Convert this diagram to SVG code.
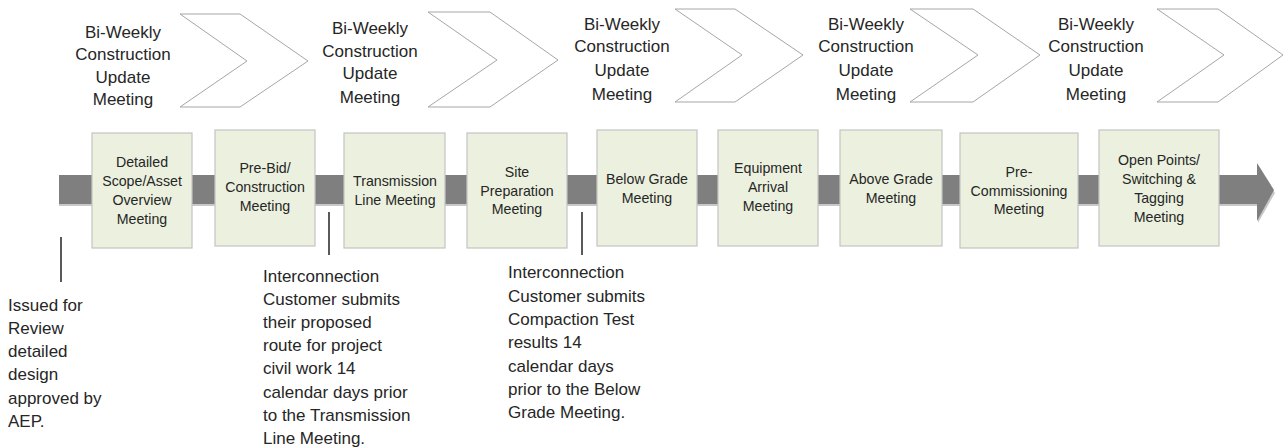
<svg xmlns="http://www.w3.org/2000/svg" width="1284" height="447" viewBox="0 0 1284 447">
<style>
.chev{fill:#ffffff;stroke:#a6a6a6;stroke-width:1}
.box{fill:#ebf1de;stroke:#c3c3c3;stroke-width:1.2}
.t{font-family:"Liberation Sans",Arial,sans-serif;fill:#262626}
.big{font-size:17px}
.sm{font-size:14.2px;text-anchor:middle}
.mid{text-anchor:middle}
.lead{stroke:#000000;stroke-width:1.3}
</style>
<rect width="1284" height="447" fill="#ffffff"/>
<g id="chevrons">
<polygon class="chev" points="180,14 240,14 308,61 240,107 180,107 247,61"/>
<polygon class="chev" points="428,12 490,12 558,60 490,107 428,107 497,60"/>
<polygon class="chev" points="675,9 735,9 803,55 735,102 675,102 742,55"/>
<polygon class="chev" points="910,9 973,9 1040,55 973,102 910,102 978,55"/>
<polygon class="chev" points="1157,9 1218,9 1283,55 1218,102 1157,102 1224,55"/>
</g>
<g id="update-labels" class="t big mid">
<text x="123" y="38">Bi-Weekly</text><text x="123" y="60">Construction</text><text x="123" y="83">Update</text><text x="123" y="105">Meeting</text>
<text x="370" y="34">Bi-Weekly</text><text x="370" y="57">Construction</text><text x="370" y="79">Update</text><text x="370" y="103">Meeting</text>
<text x="622" y="30">Bi-Weekly</text><text x="622" y="52">Construction</text><text x="622" y="76">Update</text><text x="622" y="100">Meeting</text>
<text x="866" y="30">Bi-Weekly</text><text x="866" y="52">Construction</text><text x="866" y="76">Update</text><text x="866" y="100">Meeting</text>
<text x="1096" y="30">Bi-Weekly</text><text x="1096" y="52">Construction</text><text x="1096" y="76">Update</text><text x="1096" y="100">Meeting</text>
</g>
<g id="connectors">
<rect x="59" y="177" width="1199" height="29" fill="#c8c8c8"/>
<polygon points="1258,165 1275,193 1258,223" fill="#c8c8c8"/>
<rect x="59" y="175" width="1199" height="29" fill="#7f7f7f"/>
<polygon points="1257,163 1274,190 1257,221" fill="#7f7f7f"/>
<line class="lead" x1="61" y1="237" x2="61" y2="282"/>
<line class="lead" x1="329" y1="212" x2="329" y2="255"/>
<line class="lead" x1="582" y1="212" x2="582" y2="255"/>
</g>
<g id="n1"><rect class="box" x="92" y="133" width="100" height="115"/>
<text class="t sm" x="142"><tspan x="142" y="167">Detailed</tspan><tspan x="142" y="186">Scope/Asset</tspan><tspan x="142" y="205">Overview</tspan><tspan x="142" y="224">Meeting</tspan></text></g>
<g id="n2"><rect class="box" x="215" y="130" width="100" height="116"/>
<text class="t sm" x="265"><tspan x="265" y="173">Pre-Bid/</tspan><tspan x="265" y="192">Construction</tspan><tspan x="265" y="211">Meeting</tspan></text></g>
<g id="n3"><rect class="box" x="344" y="133" width="101" height="115"/>
<text class="t sm" x="395"><tspan x="395" y="186">Transmission</tspan><tspan x="395" y="205">Line Meeting</tspan></text></g>
<g id="n4"><rect class="box" x="467" y="133" width="100" height="115"/>
<text class="t sm" x="517"><tspan x="517" y="177">Site</tspan><tspan x="517" y="196">Preparation</tspan><tspan x="517" y="214">Meeting</tspan></text></g>
<g id="n5"><rect class="box" x="597" y="130" width="100" height="116"/>
<text class="t sm" x="647"><tspan x="647" y="184">Below Grade</tspan><tspan x="647" y="203">Meeting</tspan></text></g>
<g id="n6"><rect class="box" x="718" y="130" width="100" height="116"/>
<text class="t sm" x="768"><tspan x="768" y="173">Equipment</tspan><tspan x="768" y="192">Arrival</tspan><tspan x="768" y="211">Meeting</tspan></text></g>
<g id="n7"><rect class="box" x="840" y="130" width="102" height="116"/>
<text class="t sm" x="891"><tspan x="891" y="184">Above Grade</tspan><tspan x="891" y="203">Meeting</tspan></text></g>
<g id="n8"><rect class="box" x="960" y="133" width="118" height="115"/>
<text class="t sm" x="1019"><tspan x="1019" y="177">Pre-</tspan><tspan x="1019" y="196">Commissioning</tspan><tspan x="1019" y="214">Meeting</tspan></text></g>
<g id="n9"><rect class="box" x="1099" y="130" width="120" height="116"/>
<text class="t sm" x="1159"><tspan x="1159" y="165">Open Points/</tspan><tspan x="1159" y="184">Switching &amp;</tspan><tspan x="1159" y="203">Tagging</tspan><tspan x="1159" y="222">Meeting</tspan></text></g>
<g id="note1" class="t big">
<text x="8" y="311">Issued for</text><text x="8" y="334">Review</text><text x="8" y="357">detailed</text><text x="8" y="380">design</text><text x="8" y="404">approved by</text><text x="8" y="427">AEP.</text>
</g>
<g id="note2" class="t big">
<text x="263" y="282">Interconnection</text><text x="263" y="305">Customer submits</text><text x="263" y="328">their proposed</text><text x="263" y="351">route for project</text><text x="263" y="374">civil work 14</text><text x="263" y="398">calendar days prior</text><text x="263" y="421">to the Transmission</text><text x="263" y="444">Line Meeting.</text>
</g>
<g id="note3" class="t big">
<text x="508" y="278">Interconnection</text><text x="508" y="302">Customer submits</text><text x="508" y="325">Compaction Test</text><text x="508" y="348">results 14</text><text x="508" y="372">calendar days</text><text x="508" y="395">prior to the Below</text><text x="508" y="418">Grade Meeting.</text>
</g>
</svg>
